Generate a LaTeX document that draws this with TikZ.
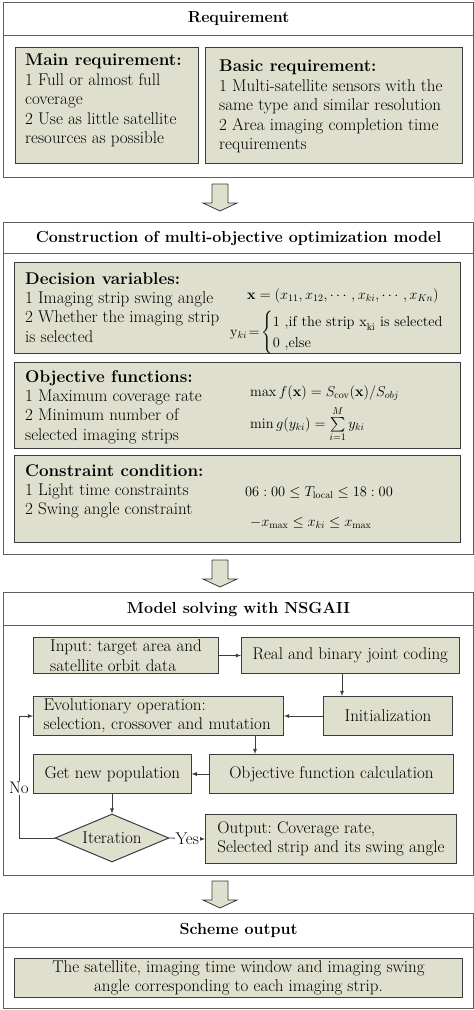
\documentclass[tikz,border=0pt]{standalone}
\usepackage{amsmath,amssymb,amsfonts}
\usepackage{xcolor}
\usepackage{tikz}
\usetikzlibrary{shapes,arrows,positioning,calc}

\definecolor{panelfill}{RGB}{222,223,205}
\definecolor{panelline}{RGB}{60,60,60}
\definecolor{frameline}{RGB}{95,95,95}

\tikzset{
  bodyfont/.style={font=\fontsize{17}{19.4}\selectfont},
  headfont/.style={font=\fontsize{16}{19}\selectfont\bfseries},
  mathfont/.style={font=\fontsize{14.5}{17}\selectfont},
  sectionhead/.style={draw=frameline, line width=1.1pt, anchor=north west, minimum width=470pt, inner sep=0pt, headfont},
  sectionframe/.style={draw=frameline, line width=1.1pt, anchor=north west, minimum width=470pt, inner sep=0pt},
  panel/.style={draw=panelline, line width=1pt, fill=panelfill, anchor=north west, inner sep=0pt},
  paneltext/.style={anchor=north west, inner sep=0pt, align=left, bodyfont},
  formula/.style={anchor=base west, inner sep=0pt, mathfont},
  flowbox/.style={draw=panelline, line width=1pt, fill=panelfill, anchor=north west, inner xsep=11pt, inner ysep=0pt, bodyfont, align=left},
  flow/.style={->, >=latex, line width=0.8pt, panelline},
  bigarrow/.style={draw=panelline, line width=0.8pt, fill=panelfill},
  flowlabel/.style={fill=white, text=black, inner sep=1pt, bodyfont}
}

\begin{document}
\frenchspacing
\begin{tikzpicture}[x=1pt, y=-1pt]
    \useasboundingbox (0,0) rectangle (474,1010);

    % Requirement
    \node[sectionhead, minimum height=33pt] (reqhead) at (3,2) {Requirement};
    \node[sectionframe, minimum height=142pt] (reqframe) at (3,35) {};
    \node[panel, minimum width=183pt, minimum height=116pt] (mainbox) at (15,47) {};
    \node[panel, minimum width=257pt, minimum height=116pt] (basicbox) at (205,47) {};
    \node[paneltext] (maintext) at (25,54) {\textbf{Main requirement:}\\1 Full or almost full\\coverage\\2 Use as little satellite\\resources as possible};
    \node[paneltext] (basictext) at (219,60) {\textbf{Basic requirement:}\\1 Multi-satellite sensors with the\\same type and similar resolution\\2 Area imaging completion time\\requirements};

    % Hollow arrows between the stages
    \foreach \ya in {184,560,881}
        \draw[bigarrow] (212,\ya) -- ++(16,0) -- ++(0,19) -- ++(9,0) -- ++(-17,8) -- ++(-17,-8) -- ++(9,0) -- cycle;

    % Optimization model
    \node[sectionhead, minimum height=31pt] (modhead) at (3,222) {Construction of multi-objective optimization model};
    \node[sectionframe, minimum height=301pt] (modframe) at (3,253) {};

    \node[panel, minimum width=446pt, minimum height=91pt] (decbox) at (14,262) {};
    \node[paneltext] (dectext) at (25,272) {\textbf{Decision variables:}\\1 Imaging strip swing angle\\2 Whether the imaging strip\\is selected};
    \node[formula] (xvec) at (247,299) {$\mathbf{x}=(x_{11},x_{12},\cdots,x_{ki},\cdots,x_{Kn})$};
    \node[formula, anchor=west] (ycase) at (230,333) {$\mathrm{y}_{ki}\!=\!\begin{cases}1\ \text{,if the strip x}_{\mathrm{ki}}\text{ is selected}\\ 0\ \text{,else}\end{cases}$};

    \node[panel, minimum width=446pt, minimum height=86pt] (objbox) at (14,362) {};
    \node[paneltext] (objtext) at (25,370) {\textbf{Objective functions:}\\1 Maximum coverage rate\\2 Minimum number of\\selected imaging strips};
    \node[formula] (fmax) at (250,396) {$\max f(\mathbf{x})=S_{\mathrm{cov}}(\mathbf{x})/S_{obj}$};
    \node[formula] (gmin) at (250,428) {$\min g(y_{ki})=\sum\limits_{i=1}^{M} y_{ki}$};

    \node[panel, minimum width=446pt, minimum height=87pt] (conbox) at (14,455) {};
    \node[paneltext] (context) at (25,464) {\textbf{Constraint condition:}\\1 Light time constraints\\2 Swing angle constraint};
    \node[formula] (tlocal) at (245,496) {$06:00\le T_{\mathrm{local}}\le 18:00$};
    \node[formula] (swing) at (250,526) {$-x_{\max}\le x_{ki}\le x_{\max}$};

    % NSGAII solving
    \node[sectionhead, minimum height=33pt] (nsgahead) at (3,592) {Model solving with NSGAII};
    \node[sectionframe, minimum height=250pt] (nsgaframe) at (3,625) {};

    \node[flowbox, minimum width=185pt, minimum height=36pt] (input) at (33,637) {Input: target area and\\satellite orbit data};
    \node[flowbox, minimum width=212pt, minimum height=36pt, align=center] (coding) at (241,637) {Real and binary joint coding};
    \node[flowbox, minimum width=129pt, minimum height=39pt, align=center] (init) at (323,696) {Initialization};
    \node[flowbox, minimum width=250pt, minimum height=39pt, inner xsep=10pt, text width=230pt] (evo) at (33,696) {Evolutionary operation:\\selection, crossover and mutation};
    \node[flowbox, minimum width=156pt, minimum height=39pt, align=center] (newpop) at (33,754) {Get new population};
    \node[flowbox, minimum width=244pt, minimum height=39pt, align=center] (objcalc) at (209,754) {Objective function calculation};
    \node[diamond, draw=panelline, line width=1pt, fill=panelfill, aspect=2.4, minimum width=114pt, minimum height=48pt, inner sep=0pt, bodyfont] (iter) at (112,838) {Iteration};
    \node[flowbox, minimum width=251pt, minimum height=49pt, inner xsep=6pt] (output) at (205,814) {Output: Coverage rate,\\Selected strip and its swing angle};

    \coordinate (codex) at (342,0);
    \coordinate (evox) at (255,0);
    \coordinate (loopx) at (19,0);
    \draw[flow] (input.east) -- (coding.west);
    \draw[flow] (coding.south -| codex) -- (init.north -| codex);
    \draw[flow] (init.west) -- (evo.east);
    \draw[flow] (evo.south -| evox) -- (objcalc.north -| evox);
    \draw[flow] (objcalc.west) -- (newpop.east);
    \draw[flow] (newpop.south -| iter.north) -- (iter.north);
    \draw[flow] (iter.east) -- node[flowlabel] {Yes} (output.west);
    \draw[flow] (iter.west) -- (iter.west -| loopx) -- node[flowlabel, pos=0.41] {No} (evo.west -| loopx) -- (evo.west);

    % Scheme output
    \node[sectionhead, minimum height=34pt] (outhead) at (3,913) {Scheme output};
    \node[sectionframe, minimum height=61pt] (outframe) at (3,947) {};
    \node[panel, minimum width=448pt, minimum height=39pt, align=center, bodyfont] (scheme) at (14,958) {The satellite, imaging time window and imaging swing\\angle corresponding to each imaging strip.};
\end{tikzpicture}
\end{document}
